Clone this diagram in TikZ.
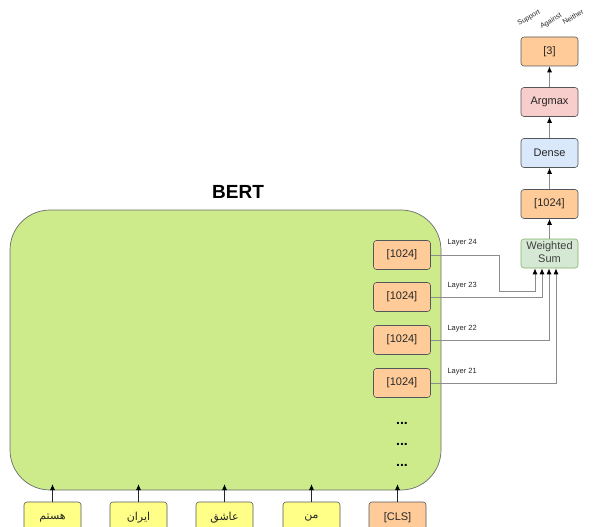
\documentclass[tikz,border=0pt]{standalone}
\usepackage{fontspec}
\setmainfont{Liberation Sans}
\newfontfamily\arabicfont[Script=Arabic]{DejaVu Sans}
\TeXXeTstate=1
\usetikzlibrary{arrows.meta,calc}
\definecolor{orangef}{HTML}{FFCC99}
\definecolor{yellowf}{HTML}{FFFF88}
\definecolor{greenf}{HTML}{CDEB8B}
\definecolor{wsf}{HTML}{D5E8D4}
\definecolor{wsd}{HTML}{82B366}
\definecolor{bluef}{HTML}{DAE8FC}
\definecolor{redf}{HTML}{F8CECC}
\definecolor{edge}{HTML}{36393D}
\tikzset{
  box/.style={draw=edge!85, rounded corners=3pt, minimum width=57pt, minimum height=29pt, inner sep=0pt, font=\fontsize{11}{13}\selectfont, text=black!85, line width=0.6pt},
  obox/.style={box, fill=orangef},
  ybox/.style={box, fill=yellowf, minimum height=32pt},
  conn/.style={draw=gray!90, line width=0.9pt, -{Latex[length=6pt,width=5pt,color=black]}},
  lbl/.style={font=\fontsize{7.5}{8}\selectfont, text=black!85},
  dots/.style={font=\bfseries\fontsize{14}{14}\selectfont, inner sep=0pt},
}
\begin{document}
\begin{tikzpicture}[x=1pt,y=-1pt]
\useasboundingbox (0,0) rectangle (594,527);
\clip (0,0) rectangle (594,527);
% BERT
\node[font=\bfseries\fontsize{19}{22}\selectfont] (title) at (238,192) {BERT};
\node[draw=edge!75, fill=greenf, rounded corners=40pt, minimum width=431pt, minimum height=280pt, line width=0.7pt] (bert) at (225.5,350) {};
% inner layers
\node[obox] (l24) at (402,255) {[1024]};
\node[obox] (l23) at (402,297) {[1024]};
\node[obox] (l22) at (402,340) {[1024]};
\node[obox] (l21) at (402,383) {[1024]};
\node[dots] (d1) at (402,423) {...};
\node[dots] (d2) at (402,444) {...};
\node[dots] (d3) at (402,465) {...};
% head
\node[box, fill=wsf, draw=wsd, text=black!75] (ws) at (549.5,253.5) {\begin{tabular}{@{}c@{}}Weighted\\[0pt]Sum\end{tabular}};
\node[obox] (h1024) at (549.5,204) {[1024]};
\node[box, fill=bluef] (dense) at (549.5,153) {Dense};
\node[box, fill=redf] (argmax) at (549.5,102) {Argmax};
\node[obox] (out) at (549.5,51.5) {[3]};
\node[lbl, rotate=30, font=\fontsize{7}{8}\selectfont] (sup) at (529,18) {Support};
\node[lbl, rotate=30, font=\fontsize{7}{8}\selectfont] (aga) at (551,21) {Against};
\node[lbl, rotate=30, font=\fontsize{7}{8}\selectfont] (nei) at (573,17) {Neither};
\draw[conn] (ws) -- (h1024);
\draw[conn] (h1024) -- (dense);
\draw[conn] (dense) -- (argmax);
\draw[conn] (argmax) -- (out);
% layer connectors
\draw[conn] (l24.east) -- (499,255) -- (499,291) -- (535,291) -- ($(ws.south)+(-14.5,0)$);
\draw[conn] (l23.east) -- (542,297) -- ($(ws.south)+(-7.5,0)$);
\draw[conn] (l22.east) -- (549,340) -- ($(ws.south)+(-0.5,0)$);
\draw[conn] (l21.east) -- (556,383) -- ($(ws.south)+(6.5,0)$);
\node[lbl, anchor=west] (t24) at (444,243) {Layer 24};
\node[lbl, anchor=west] (t23) at (444,286) {Layer 23};
\node[lbl, anchor=west] (t22) at (444,329) {Layer 22};
\node[lbl, anchor=west] (t21) at (444,372) {Layer 21};
% inputs
\node[ybox] (i1) at (52.5,518) {\arabicfont\beginR هستم\endR};
\node[ybox] (i2) at (138.5,518) {\arabicfont\beginR ایران\endR};
\node[ybox] (i3) at (224.5,518) {\arabicfont\beginR عاشق\endR};
\node[ybox] (i4) at (311.5,518) {\arabicfont\beginR من\endR};
\node[ybox, fill=orangef] (cls) at (397.5,518) {[CLS]};
\foreach \n/\x in {i1/52.5,i2/138.5,i3/224.5,i4/311.5,cls/397.5}{
  \draw[conn, draw=black!85] (\n.north) -- (\x,484);
}
\end{tikzpicture}
\end{document}
